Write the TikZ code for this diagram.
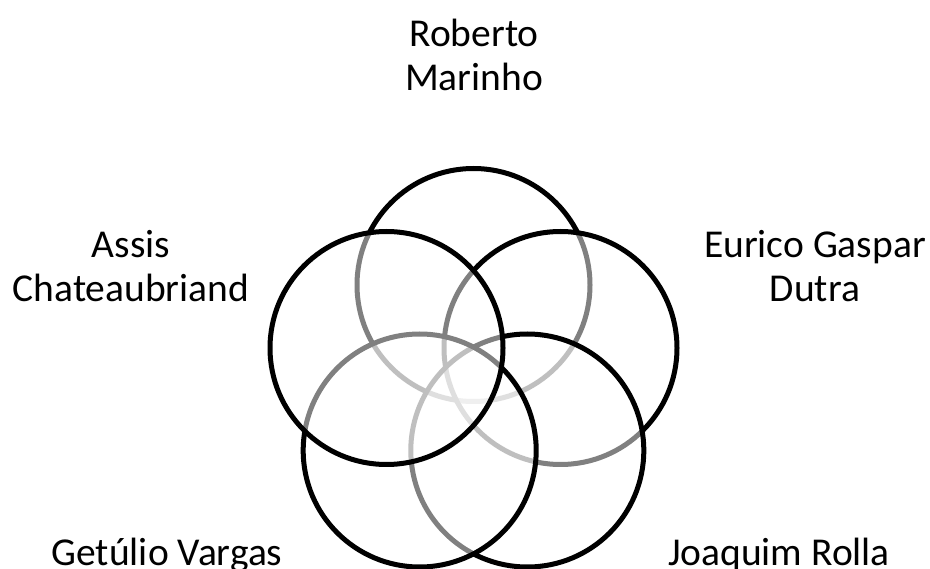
\documentclass[tikz,border=0pt]{standalone}
\usepackage{fontspec}
\setmainfont{Carlito}
\usepackage{tikz}

\begin{document}
\begin{tikzpicture}[
    x=1pt, y=-1pt,
    ring/.style={circle, draw=black, line width=5pt, fill=white, fill opacity=0.5, draw opacity=1, minimum size=233pt, inner sep=0pt},
    person/.style={align=center, font=\fontsize{39.5}{43.5}\selectfont, inner sep=0pt}
]
    \useasboundingbox (0,0) rectangle (930,569);

    % circles, drawn clockwise from the top
    \node[ring] (roberto) at (473.5, 285) {};
    \node[ring] (eurico) at (560.5, 348) {};
    \node[ring] (joaquim) at (527.3, 450.5) {};
    \node[ring] (getulio) at (419.7, 450.5) {};
    \node[ring] (assis) at (386.5, 348) {};

    % names
    \node[person] (lroberto) at (474, 55) {Roberto\\Marinho};
    \node[person] (leurico) at (815, 266) {Eurico Gaspar\\Dutra};
    \node[person] (lassis) at (131, 266) {Assis\\Chateaubriand};
    \node[person, anchor=base] (lgetulio) at (167, 565) {Getúlio Vargas};
    \node[person, anchor=base] (ljoaquim) at (779, 565) {Joaquim Rolla};
\end{tikzpicture}
\end{document}
